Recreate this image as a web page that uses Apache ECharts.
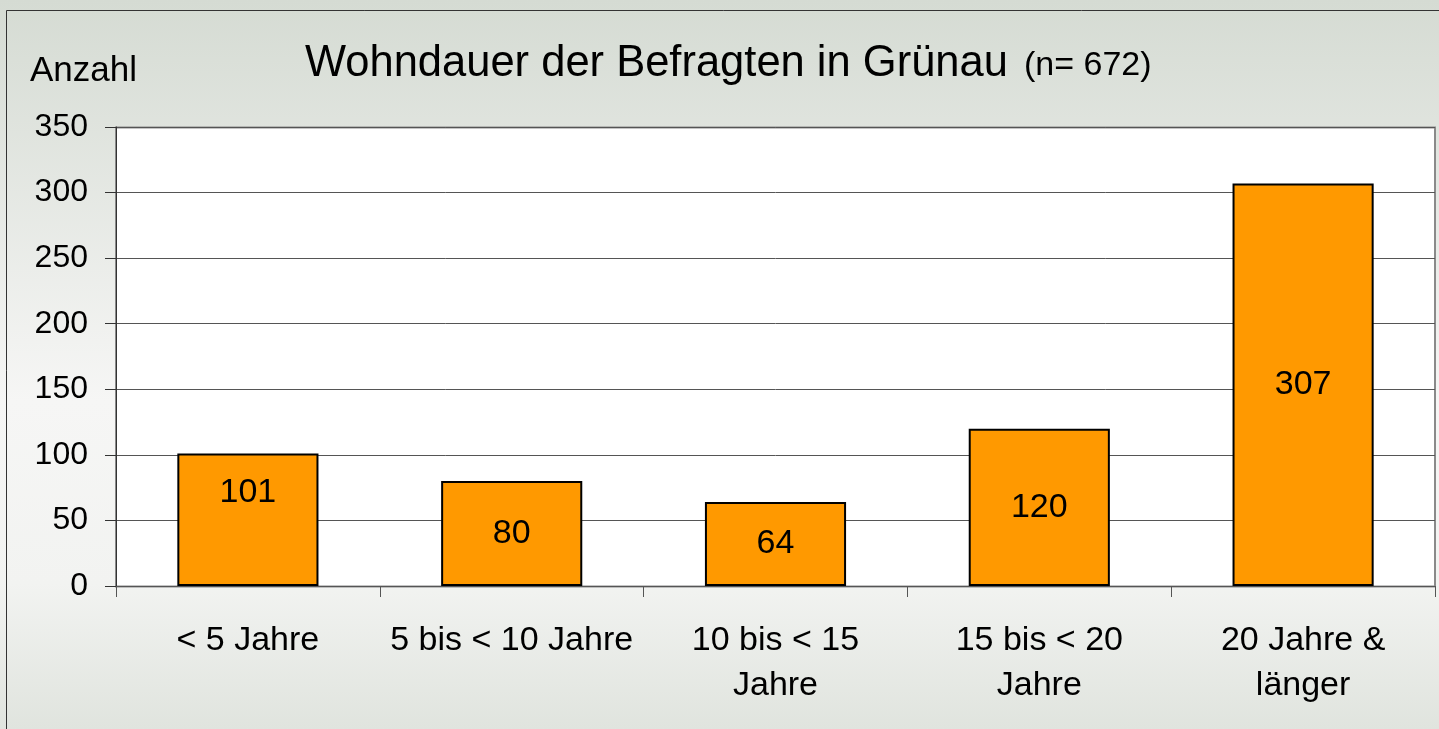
<!DOCTYPE html>
<html>
<head>
<meta charset="utf-8">
<script src="https://cdn.jsdelivr.net/npm/echarts@6/dist/echarts.min.js"></script>
<style>
html, body { margin: 0; padding: 0; }
#chart { width: 1439px; height: 729px; }
</style>
</head>
<body>
<div id="chart"></div>
<script>
var categories = ['< 5 Jahre', '5 bis < 10 Jahre', '10 bis < 15\nJahre', '15 bis < 20\nJahre', '20 Jahre &\nlänger'];
var counts = [101, 80, 64, 120, 307];
var yTicks = [0, 50, 100, 150, 200, 250, 300, 350];

var chart = echarts.init(document.getElementById('chart'));
var FONT = 'Liberation Sans, Arial, sans-serif';

// Balken, Beschriftung in der Mitte (erste etwas höher wie im Original)
var barData = counts.map(function (v, i) {
	var item = { value: v };
	if (i === 0) {
		item.label = { offset: [0, -27] };
	}
	return item;
});

var option = {
	backgroundColor: {
		type: 'linear', x: 0, y: 0, x2: 0, y2: 1,
		colorStops: [
			{ offset: 0, color: '#d5dbd3' },
			{ offset: 0.55, color: '#f6f6f5' },
			{ offset: 0.8, color: '#f2f3f1' },
			{ offset: 1, color: '#e0e4de' }
		]
	},
	textStyle: { fontFamily: FONT },
	graphic: [
		{ type: 'rect', shape: { x: 6.5, y: 10.5, width: 1450, height: 740 },
			style: { fill: null, stroke: '#333', lineWidth: 1 }, z: 10 },
		{ type: 'rect', shape: { x: 116, y: 127.5, width: 1319, height: 459 },
			style: { fill: '#ffffff', stroke: '#8a8a8a', lineWidth: 2 }, z: -1 },
		{ type: 'text', left: 305, top: 42,
			style: { text: 'Wohndauer der Befragten in Grünau', fontSize: 43.5, fill: '#000', fontFamily: FONT } },
		{ type: 'text', left: 1024, top: 49,
			style: { text: '(n= 672)', fontSize: 34, fill: '#000', fontFamily: FONT } },
		{ type: 'text', left: 30, top: 54,
			style: { text: 'Anzahl', fontSize: 35, fill: '#000', fontFamily: FONT } }
	],
	grid: { left: 116, right: 4, top: 127, bottom: 143, containLabel: false },
	xAxis: {
		type: 'category',
		data: categories,
		axisLine: { lineStyle: { color: '#555', width: 1 } },
		axisTick: { show: true, length: 11, inside: false, interval: 0, lineStyle: { color: '#555' } },
		axisLabel: { color: '#000', fontSize: 34, margin: 32, lineHeight: 45, interval: 0 }
	},
	yAxis: {
		type: 'value',
		min: yTicks[0],
		max: yTicks[yTicks.length - 1],
		interval: 50,
		axisLine: { show: true, lineStyle: { color: '#333', width: 1 } },
		axisTick: { show: true, length: 11, lineStyle: { color: '#333' } },
		axisLabel: { color: '#000', fontSize: 32, margin: 28 },
		splitLine: { lineStyle: { color: '#555', width: 1 } }
	},
	series: [{
		type: 'bar',
		data: barData,
		barWidth: '53.5%',
		itemStyle: { color: '#ff9900', borderColor: '#000', borderWidth: 2 },
		label: { show: true, position: 'inside', color: '#000', fontSize: 34 }
	}]
};

chart.setOption(option);
</script>
</body>
</html>
